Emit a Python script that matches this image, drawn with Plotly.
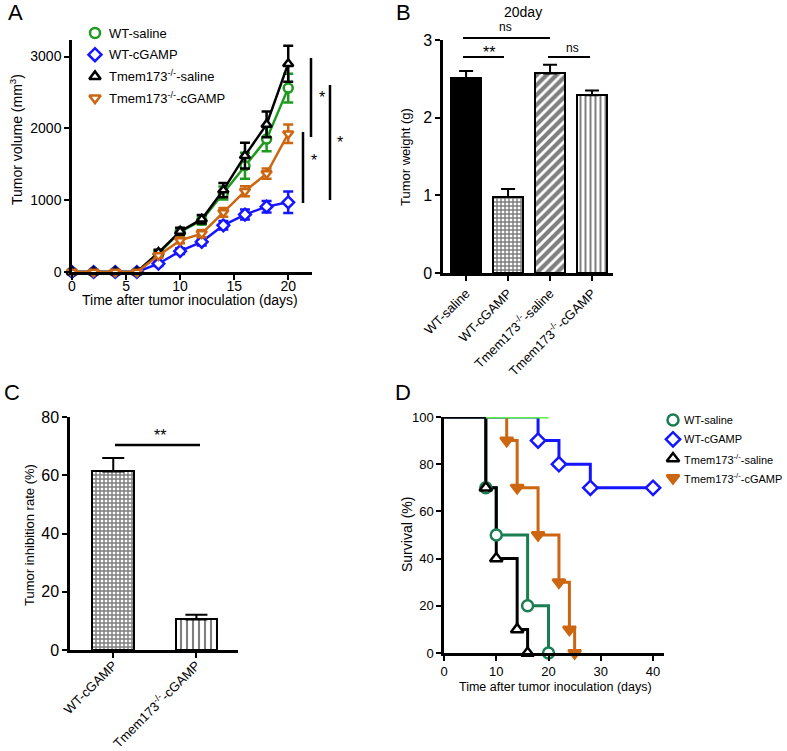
import plotly.graph_objects as go

W, H = 787, 751
FONT = "Arial, Liberation Sans, sans-serif"

# ---------------- Data ----------------
# Panel A: tumor volume over time
days = [0, 2, 4, 6, 8, 10, 12, 14, 16, 18, 20]
wt_saline_vol = [0, 0, 0, 0, 255, 560, 720, 1100, 1480, 1850, 2560]
wt_saline_err = [0, 0, 0, 0, 40, 50, 60, 90, 180, 170, 200]
wt_cgamp_vol = [0, 0, 0, 0, 115, 290, 420, 650, 800, 910, 970]
wt_cgamp_err = [0, 0, 0, 0, 30, 40, 50, 60, 70, 80, 150]
ko_saline_vol = [0, 0, 0, 0, 270, 565, 735, 1140, 1620, 2055, 2900]
ko_saline_err = [0, 0, 0, 0, 40, 50, 60, 100, 180, 180, 250]
ko_cgamp_vol = [0, 0, 0, 0, 230, 440, 535, 830, 1125, 1370, 1925]
ko_cgamp_err = [0, 0, 0, 0, 30, 40, 50, 60, 70, 70, 130]
series_names = ["WT-saline", "WT-cGAMP", "Tmem173<sup>-/-</sup>-saline", "Tmem173<sup>-/-</sup>-cGAMP"]

# Panel B: tumor weight at day 20
b_categories = ["WT-saline", "WT-cGAMP", "Tmem173<sup>-/-</sup>-saline", "Tmem173<sup>-/-</sup>-cGAMP"]
b_weight = [2.51, 0.98, 2.57, 2.29]
b_err = [0.09, 0.10, 0.11, 0.06]

# Panel C: tumor inhibition rate
c_categories = ["WT-cGAMP", "Tmem173<sup>-/-</sup>-cGAMP"]
c_rate = [61.3, 10.5]
c_err = [4.6, 1.6]

# Panel D: survival
d_wt_saline_t = [0, 8, 10, 16, 20]
d_wt_saline_s = [100, 70, 50, 20, 0]
d_wt_cgamp_t = [0, 18, 22, 28, 40]
d_wt_cgamp_s = [100, 90, 80, 70, 70]
d_ko_saline_t = [0, 8, 10, 14, 16]
d_ko_saline_s = [100, 70, 40, 10, 0]
d_ko_cgamp_t = [0, 12, 14, 18, 22, 24, 25]
d_ko_cgamp_s = [100, 90, 70, 50, 30, 10, 0]
d_top_t = [8, 20]
d_top_s = [100, 100]

# ---------------- Style ----------------
GREEN = "#1f9a1f"
BLUE = "#1515ff"
BLACK = "#000000"
ORANGE = "#cc6611"
DGREEN = "#1b7d52"
LGREEN = "#5cf04a"


def fx(p):
    return p / W


def fy(p):
    return 1 - p / H


fig = go.Figure()

# ---------- Panel A ----------
a_sets = [
    (wt_saline_vol, wt_saline_err, GREEN, "circle"),
    (wt_cgamp_vol, wt_cgamp_err, BLUE, "diamond"),
    (ko_saline_vol, ko_saline_err, BLACK, "triangle-up"),
    (ko_cgamp_vol, ko_cgamp_err, ORANGE, "triangle-down"),
]
for vals, errs, col, sym in a_sets:
    fig.add_trace(go.Scatter(
        x=days, y=vals, mode="lines+markers", xaxis="x", yaxis="y",
        line=dict(color=col, width=2.5),
        marker=dict(symbol=sym, size=9, color="white", line=dict(color=col, width=2.5)),
        error_y=dict(type="data", array=errs, visible=True, color=col, thickness=2.5, width=5),
        showlegend=False, cliponaxis=False))

# ---------- Panel B ----------
b_patterns = [
    dict(shape=""),
    dict(shape="+", size=4, solidity=0.6, fgcolor="black", bgcolor="white"),
    dict(shape="/", size=7, solidity=0.6, fgcolor="black", bgcolor="white"),
    dict(shape="|", size=5, solidity=0.4, fgcolor="black", bgcolor="white"),
]
b_colors = ["black", "white", "white", "white"]
for i, cat in enumerate(b_categories):
    fig.add_trace(go.Bar(
        x=[cat], y=[b_weight[i]], xaxis="x2", yaxis="y2", width=0.72,
        marker=dict(color=b_colors[i], line=dict(color="black", width=2), pattern=b_patterns[i]),
        error_y=dict(type="data", symmetric=False, array=[b_err[i]], arrayminus=[0],
                     color="black", thickness=2, width=7),
        showlegend=False))

# ---------- Panel C ----------
c_patterns = [
    dict(shape="+", size=4, solidity=0.6, fgcolor="black", bgcolor="white"),
    dict(shape="|", size=6, solidity=0.35, fgcolor="black", bgcolor="white"),
]
for i, cat in enumerate(c_categories):
    fig.add_trace(go.Bar(
        x=[cat], y=[c_rate[i]], xaxis="x3", yaxis="y3", width=0.5,
        marker=dict(color="white", line=dict(color="black", width=2), pattern=c_patterns[i]),
        error_y=dict(type="data", symmetric=False, array=[c_err[i]], arrayminus=[0],
                     color="black", thickness=2, width=11),
        showlegend=False))

# ---------- Panel D ----------
d_sets = [
    (d_ko_cgamp_t, d_ko_cgamp_s, ORANGE, "triangle-down", ORANGE),
    (d_wt_cgamp_t, d_wt_cgamp_s, BLUE, "diamond", "white"),
    (d_wt_saline_t, d_wt_saline_s, DGREEN, "circle", "white"),
    (d_ko_saline_t, d_ko_saline_s, BLACK, "triangle-up", "white"),
]
for t, s, col, sym, fill in d_sets:
    fig.add_trace(go.Scatter(
        x=t, y=s, mode="lines", line=dict(color=col, width=3, shape="hv"),
        xaxis="x4", yaxis="y4", showlegend=False, cliponaxis=False))
fig.add_trace(go.Scatter(
    x=d_top_t, y=d_top_s, mode="lines", line=dict(color=LGREEN, width=3.2),
    xaxis="x4", yaxis="y4", showlegend=False, cliponaxis=False))
for t, s, col, sym, fill in d_sets:
    fig.add_trace(go.Scatter(
        x=t[1:], y=s[1:], mode="markers",
        marker=dict(symbol=sym, size=11, color=fill, line=dict(color=col, width=2.5)),
        xaxis="x4", yaxis="y4", showlegend=False, cliponaxis=False))

# ---------- Manual legends (overlay pixel axis) ----------
ann = []


def text(px, py, s, size, angle=0, xa="center", ya="middle"):
    ann.append(dict(x=fx(px), y=fy(py), xref="paper", yref="paper", text=s, showarrow=False,
                    font=dict(size=size, family=FONT, color="black"), textangle=angle,
                    xanchor=xa, yanchor=ya))


legend_specs = [
    # (marker x, first row y, row step, text offset, font size, marker size, styles)
    (95, 33, 21.7, 12, 13, 10, [(GREEN, "circle", "white"), (BLUE, "diamond", "white"),
                                (BLACK, "triangle-up", "white"), (ORANGE, "triangle-down", "white")]),
    (673, 420, 19.3, 9, 11, 11, [(DGREEN, "circle", "white"), (BLUE, "diamond", "white"),
                                 (BLACK, "triangle-up", "white"), (ORANGE, "triangle-down", ORANGE)]),
]
for mx, my, step, off, fsize, msize, styles in legend_specs:
    for k, ((col, sym, fill), name) in enumerate(zip(styles, series_names)):
        yy = my + k * step
        fig.add_trace(go.Scatter(
            x=[mx], y=[yy], mode="markers", xaxis="x5", yaxis="y5",
            marker=dict(symbol=sym, size=msize, color=fill, line=dict(color=col, width=2.5)),
            showlegend=False, cliponaxis=False, hoverinfo="skip"))
        text(mx + off, yy, name, fsize, xa="left")

# ---------- Axes ----------
axis_common = dict(showline=True, linecolor="black", linewidth=2.5, ticks="outside",
                   tickwidth=2, ticklen=5, tickcolor="black", showgrid=False,
                   zeroline=False, color="black", automargin=False)

fig.update_layout(
    width=W, height=H, margin=dict(l=0, r=0, t=0, b=0, autoexpand=False),
    paper_bgcolor="white", plot_bgcolor="rgba(0,0,0,0)",
    font=dict(family=FONT, color="black"),
    showlegend=False,
    xaxis=dict(domain=[fx(72), fx(312)], anchor="y", range=[0, 22.2],
               tickvals=[0, 5, 10, 15, 20], tickfont=dict(size=14), ticklabelstandoff=-6,
               **axis_common),
    yaxis=dict(domain=[fy(272), fy(40)], anchor="x", range=[0, 3230],
               tickvals=[0, 1000, 2000, 3000], tickfont=dict(size=14), **axis_common),
    xaxis2=dict(domain=[fx(443), fx(613)], anchor="y2", range=[-0.55, 3.5],
                tickangle=-45, tickfont=dict(size=13), **axis_common),
    yaxis2=dict(domain=[fy(273), fy(40)], anchor="x2", range=[0, 3],
                tickvals=[0, 1, 2, 3], tickfont=dict(size=16), **axis_common),
    xaxis3=dict(domain=[fx(70), fx(238)], anchor="y3", range=[-0.52, 1.5],
                tickangle=-45, tickfont=dict(size=13), ticklabelstandoff=-5, **axis_common),
    yaxis3=dict(domain=[fy(650), fy(417)], anchor="x3", range=[0, 80],
                tickvals=[0, 20, 40, 60, 80], tickfont=dict(size=16), **axis_common),
    xaxis4=dict(domain=[fx(444), fx(664)], anchor="y4", range=[0, 42.1],
                tickvals=[0, 10, 20, 30, 40], tickfont=dict(size=13), **axis_common),
    yaxis4=dict(domain=[fy(653), fy(417)], anchor="x4", range=[0, 100],
                tickvals=[0, 20, 40, 60, 80, 100], tickfont=dict(size=13), **axis_common),
    xaxis5=dict(domain=[0, 1], anchor="y5", range=[0, W], visible=False, fixedrange=True),
    yaxis5=dict(domain=[0, 1], anchor="x5", range=[H, 0], visible=False, fixedrange=True),
    bargap=0,
)

# panel letters
text(15, 13, "A", 22)
text(403, 13, "B", 22)
text(12, 393, "C", 22)
text(403, 393, "D", 22)
# axis titles
text(16, 140, "Tumor volume (mm<sup>3</sup>)", 14, angle=-90)
text(190, 300, "Time after tumor inoculation (days)", 14)
text(405, 157, "Tumor weight (g)", 13, angle=-90)
text(523, 12, "20day", 14)
text(29, 535, "Tumor inhibition rate (%)", 13, angle=-90)
text(407, 535, "Survival (%)", 14, angle=-90)
text(555, 687, "Time after tumor inoculation (days)", 12.5)
# significance marks
text(322, 97, "*", 16)
text(314, 161, "*", 16)
text(340, 142, "*", 16)
text(489, 52, "**", 16)
text(505, 27, "ns", 12)
text(572, 48, "ns", 12)
text(160, 435, "**", 16)

shapes = []


def seg(x0, y0, x1, y1, w=2.5):
    shapes.append(dict(type="line", xref="paper", yref="paper", x0=fx(x0), y0=fy(y0),
                       x1=fx(x1), y1=fy(y1), line=dict(color="black", width=w)))


seg(311, 58, 311, 137)
seg(303, 132, 303, 203)
seg(330, 85, 330, 200)
seg(463, 38, 550, 38, 2)
seg(463, 57, 504, 57, 2)
seg(548, 57, 590, 57, 2)
seg(115, 445, 200, 445, 2.5)

fig.update_layout(annotations=ann, shapes=shapes)
fig.write_html("out.html", config={"displayModeBar": False},
               post_script="document.body.style.margin='0';document.body.style.overflow='hidden';")
